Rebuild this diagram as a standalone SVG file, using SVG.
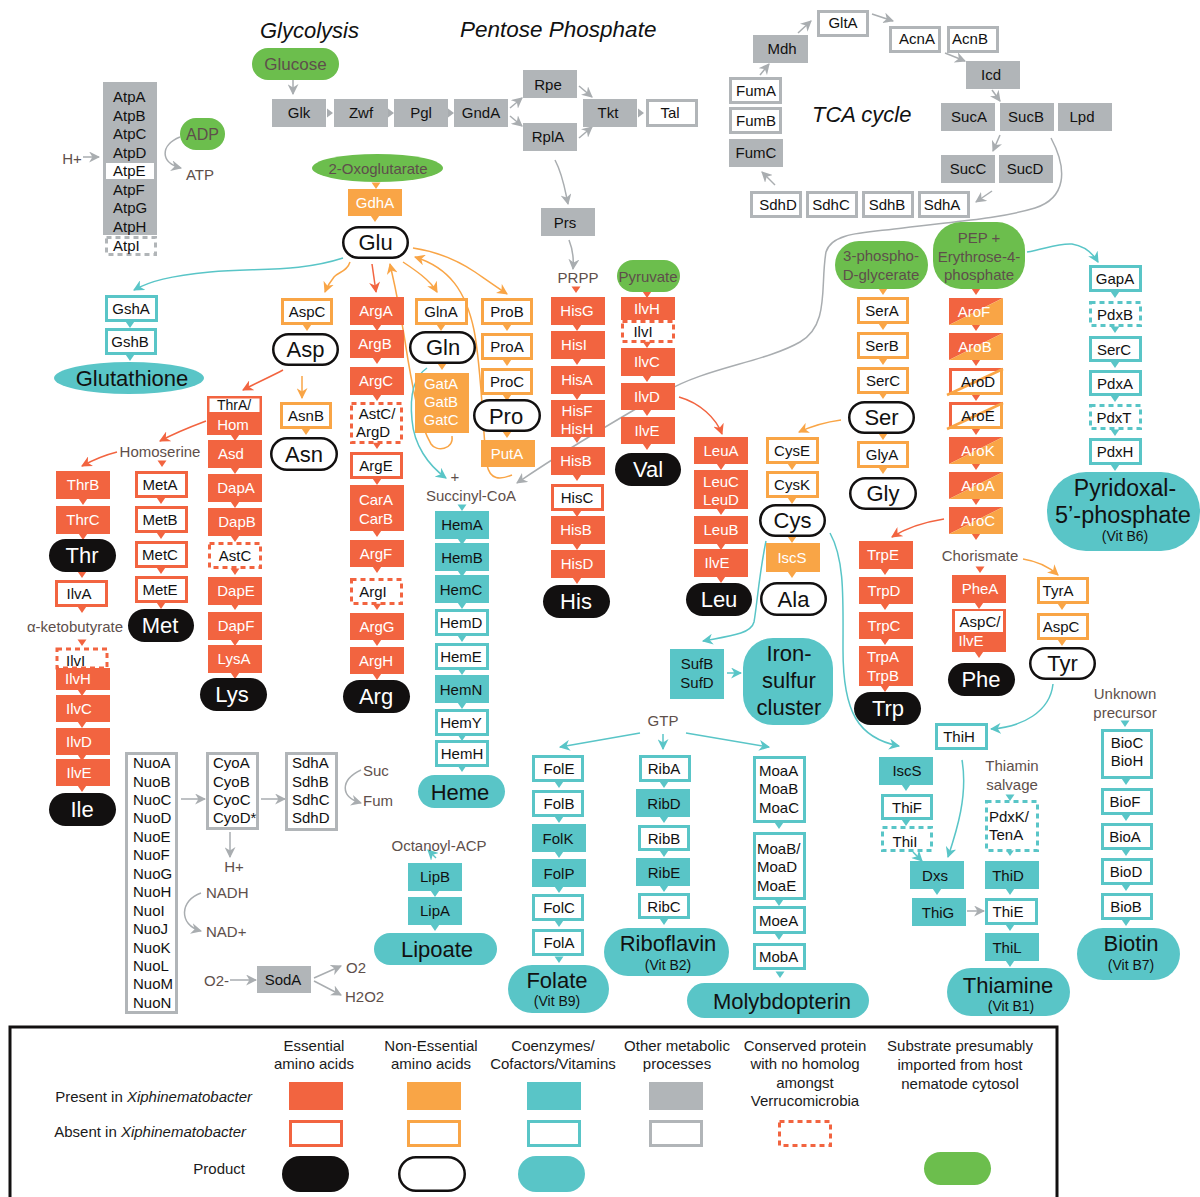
<svg xmlns="http://www.w3.org/2000/svg" xmlns:xlink="http://www.w3.org/1999/xlink" width="1200" height="1197" viewBox="0 0 1200 1197">
<style>
text{font-family:"Liberation Sans",Arial,Helvetica,sans-serif}
.b{font-size:15px;text-anchor:middle;fill:#111}
.bw{font-size:15px;text-anchor:middle;fill:#fff}
.bl{font-size:15px;fill:#111}
.m{font-size:15px;text-anchor:middle;fill:#5e4f4b}
.ml{font-size:15px;fill:#5e4f4b}
.p{font-size:22px;text-anchor:middle;fill:#111}
.pw{font-size:22px;text-anchor:middle;fill:#fff}
.v{font-size:14px;text-anchor:middle;fill:#111}
.ti{font-size:22px;font-style:italic;fill:#111}
.lgd{font-size:15px;text-anchor:middle;fill:#1a1a1a}
.rf{fill:#F26440}
.ro{fill:#fff;stroke:#F26440;stroke-width:3}
.rd{fill:#fff;stroke:#F26440;stroke-width:3;stroke-dasharray:5 4}
.of{fill:#F9A546}
.oo{fill:#fff;stroke:#F9A546;stroke-width:3}
.tf{fill:#59C5C7}
.to{fill:#fff;stroke:#59C5C7;stroke-width:3}
.td{fill:#fff;stroke:#59C5C7;stroke-width:3;stroke-dasharray:5 4}
.gf{fill:#B1B5B8}
.go{fill:#fff;stroke:#B1B5B8;stroke-width:3}
.gd{fill:#fff;stroke:#B1B5B8;stroke-width:3;stroke-dasharray:5 4}
.gn{fill:#6CBE4D}
.kf{fill:#121010}
.ko{fill:#fff;stroke:#121010;stroke-width:2.5}
.cr{fill:#F26440}.co{fill:#F9A546}.ct{fill:#59C5C7}.cg{fill:#A9ADB0}
.lg{fill:none;stroke:#A9ADB0;stroke-width:1.5;marker-end:url(#mg)}
.lr{fill:none;stroke:#F26440;stroke-width:1.5;marker-end:url(#mr)}
.lo{fill:none;stroke:#F9A546;stroke-width:1.5;marker-end:url(#mo)}
.lt{fill:none;stroke:#59C5C7;stroke-width:1.5;marker-end:url(#mt)}
.lon{fill:none;stroke:#F9A546;stroke-width:1.5}
</style>
<defs>
<marker id="mg" viewBox="0 0 10 10" refX="9" refY="5" markerWidth="11" markerHeight="11" markerUnits="userSpaceOnUse" orient="auto"><path d="M0,0 L10,5 L0,10 L3,5 Z" fill="#A9ADB0"/></marker>
<marker id="mr" viewBox="0 0 10 10" refX="9" refY="5" markerWidth="11" markerHeight="11" markerUnits="userSpaceOnUse" orient="auto"><path d="M0,0 L10,5 L0,10 L3,5 Z" fill="#F26440"/></marker>
<marker id="mo" viewBox="0 0 10 10" refX="9" refY="5" markerWidth="11" markerHeight="11" markerUnits="userSpaceOnUse" orient="auto"><path d="M0,0 L10,5 L0,10 L3,5 Z" fill="#F9A546"/></marker>
<marker id="mt" viewBox="0 0 10 10" refX="9" refY="5" markerWidth="11" markerHeight="11" markerUnits="userSpaceOnUse" orient="auto"><path d="M0,0 L10,5 L0,10 L3,5 Z" fill="#59C5C7"/></marker>
<path id="tri" d="M-4.5,-0.5 H4.5 L0,6 Z"/>
<path id="trr" d="M0,-4.5 L6,0 L0,4.5 Z"/>
</defs>
<rect width="1200" height="1197" fill="#fff"/>

<g id="titles">
<text class="ti" x="260" y="38">Glycolysis</text>
<text class="ti" x="460" y="37" style="font-size:22.5px">Pentose Phosphate</text>
<text class="ti" x="812" y="122">TCA cycle</text>
</g>

<g id="connectors">
<!-- glycolysis / pentose -->
<path class="lg" d="M293,80 L293,94"/>
<use href="#trr" x="327" y="113" class="cg"/>
<use href="#trr" x="388" y="113" class="cg"/>
<use href="#trr" x="448" y="113" class="cg"/>
<use href="#trr" x="638" y="113" class="cg"/>
<path class="lg" d="M510,108 L522,98"/>
<path class="lg" d="M510,116 L522,126"/>
<path class="lg" d="M579,86 L592,97"/>
<path class="lg" d="M579,138 L592,127"/>
<path class="lg" d="M555,160 C563,175 565,190 568,204"/>
<path class="lg" d="M569,240 C573,250 574,258 573,269"/>
<!-- TCA -->
<path class="lg" d="M760,75 L769,64"/>
<path class="lg" d="M798,33 L811,21"/>
<path class="lg" d="M872,14 L893,21"/>
<path class="lg" d="M945,53 L965,61"/>
<path class="lg" d="M992,90 L1000,101"/>
<path class="lg" d="M1000,135 L993,151"/>
<path class="lg" d="M992,191 L976,202"/>
<path class="lg" d="M775,185 L762,172"/>
<path class="lg" d="M1051,138 C1068,170 1066,198 1035,208 C995,220 945,222 903,228 C865,233 832,232 826,252 C820,285 830,325 800,342 C765,362 705,368 665,392 C625,415 565,450 517,483"/>
<!-- ATP synthase -->
<path class="lg" d="M83,157 L99,157"/>
<path class="lg" d="M180,137 C160,145 160,163 181,168"/>
<!-- Glu region -->
<path class="lt" d="M343,258 C300,272 260,268 210,272 C170,276 150,281 134,290"/>
<use href="#tri" x="130" y="322" class="ct"/>
<use href="#tri" x="130" y="355" class="ct"/>
<use href="#tri" x="376" y="183" class="co"/>
<use href="#tri" x="375" y="216" class="co"/>
<path class="lo" d="M350,262 C347,272 338,272 334,277 C330,282 327,287 325,292"/>
<path class="lr" d="M372,264 L376,292"/>
<path class="lo" d="M403,262 C415,270 430,280 437,292"/>
<path class="lo" d="M413,248 C440,252 460,262 475,272 C488,281 498,288 507,294"/>
<path class="lo" d="M512,475 C500,480 490,480 487,465 C483,440 482,370 474,330 C466,292 450,268 415,257"/>
<path class="lo" d="M452,436 C454,450 436,452 431,444 C420,425 414,395 408,360 C402,320 396,290 390,264"/>
<path class="lt" d="M427,368 C412,378 410,400 412,420 C414,445 428,465 446,478"/>
<use href="#tri" x="307" y="325" class="co"/>
<path class="lr" d="M283,370 C270,377 256,383 243,390"/>
<path class="lo" d="M302,376 L302,398"/>
<use href="#tri" x="306" y="429" class="co"/>
<use href="#tri" x="441" y="325" class="co"/>
<use href="#tri" x="442" y="364" class="co"/>
<use href="#tri" x="507" y="325" class="co"/>
<use href="#tri" x="507" y="360" class="co"/>
<use href="#tri" x="507" y="395" class="co"/>
<use href="#tri" x="507" y="432" class="co"/>
<!-- Asp family -->
<use href="#tri" x="235" y="435" class="cr"/>
<use href="#tri" x="235" y="468" class="cr"/>
<use href="#tri" x="235" y="502" class="cr"/>
<use href="#tri" x="235" y="536" class="cr"/>
<use href="#tri" x="235" y="569" class="cr"/>
<use href="#tri" x="235" y="604" class="cr"/>
<use href="#tri" x="235" y="640" class="cr"/>
<use href="#tri" x="235" y="673" class="cr"/>
<path class="lr" d="M206,421 C190,427 175,433 160,441"/>
<path class="lr" d="M117,452 C105,455 93,460 82,466"/>
<use href="#tri" x="162" y="461" class="cr"/>
<use href="#tri" x="83" y="499" class="cr"/>
<use href="#tri" x="83" y="534" class="cr"/>
<use href="#tri" x="82" y="572" class="cr"/>
<use href="#tri" x="82" y="607" class="cr"/>
<use href="#tri" x="82" y="640" class="cr"/>
<use href="#tri" x="82" y="690" class="cr"/>
<use href="#tri" x="82" y="722" class="cr"/>
<use href="#tri" x="82" y="755" class="cr"/>
<use href="#tri" x="82" y="786" class="cr"/>
<use href="#tri" x="161" y="498" class="cr"/>
<use href="#tri" x="161" y="533" class="cr"/>
<use href="#tri" x="161" y="568" class="cr"/>
<use href="#tri" x="161" y="603" class="cr"/>
<!-- Arg -->
<use href="#tri" x="377" y="325" class="cr"/>
<use href="#tri" x="377" y="358" class="cr"/>
<use href="#tri" x="377" y="395" class="cr"/>
<use href="#tri" x="377" y="443" class="cr"/>
<use href="#tri" x="377" y="479" class="cr"/>
<use href="#tri" x="377" y="531" class="cr"/>
<use href="#tri" x="377" y="567" class="cr"/>
<use href="#tri" x="377" y="604" class="cr"/>
<use href="#tri" x="377" y="640" class="cr"/>
<use href="#tri" x="377" y="674" class="cr"/>
<!-- His -->
<use href="#tri" x="576" y="287" class="cr"/>
<use href="#tri" x="577" y="325" class="cr"/>
<use href="#tri" x="577" y="359" class="cr"/>
<use href="#tri" x="577" y="394" class="cr"/>
<use href="#tri" x="577" y="437" class="cr"/>
<use href="#tri" x="577" y="475" class="cr"/>
<use href="#tri" x="577" y="511" class="cr"/>
<use href="#tri" x="577" y="544" class="cr"/>
<use href="#tri" x="577" y="578" class="cr"/>
<!-- Ilv / Leu -->
<use href="#tri" x="647" y="292" class="cr"/>
<use href="#tri" x="647" y="342" class="cr"/>
<use href="#tri" x="647" y="376" class="cr"/>
<use href="#tri" x="647" y="410" class="cr"/>
<use href="#tri" x="647" y="444" class="cr"/>
<path class="lr" d="M679,397 C700,403 716,418 722,434"/>
<use href="#tri" x="721" y="464" class="cr"/>
<use href="#tri" x="721" y="509" class="cr"/>
<use href="#tri" x="721" y="544" class="cr"/>
<use href="#tri" x="721" y="577" class="cr"/>
<!-- Cys / Ser -->
<path class="lo" d="M841,420 C826,422 812,426 799,432"/>
<use href="#tri" x="792" y="464" class="co"/>
<use href="#tri" x="792" y="498" class="co"/>
<use href="#tri" x="792" y="537" class="co"/>
<use href="#tri" x="792" y="572" class="co"/>
<path class="lt" d="M766,541 C759,575 757,605 754,622 C751,634 730,636 703,641"/>
<path class="lt" d="M830,533 C845,560 843,600 843,650 C843,712 858,738 899,746"/>
<path class="lt" d="M727,673 L741,673"/>
<use href="#tri" x="883" y="289" class="co"/>
<use href="#tri" x="883" y="324" class="co"/>
<use href="#tri" x="883" y="359" class="co"/>
<use href="#tri" x="883" y="393" class="co"/>
<use href="#tri" x="883" y="434" class="co"/>
<use href="#tri" x="883" y="468" class="co"/>
<!-- Aromatic -->
<use href="#tri" x="976" y="289" class="cr"/>
<use href="#tri" x="976" y="325" class="cr"/>
<use href="#tri" x="976" y="360" class="cr"/>
<use href="#tri" x="976" y="395" class="cr"/>
<use href="#tri" x="976" y="429" class="cr"/>
<use href="#tri" x="976" y="464" class="cr"/>
<use href="#tri" x="976" y="499" class="cr"/>
<use href="#tri" x="976" y="534" class="cr"/>
<use href="#tri" x="980" y="567" class="cr"/>
<path class="lr" d="M944,519 C925,522 906,528 892,537"/>
<path class="lo" d="M1023,559 C1036,561 1048,566 1058,575"/>
<use href="#tri" x="885" y="569" class="cr"/>
<use href="#tri" x="885" y="604" class="cr"/>
<use href="#tri" x="885" y="639" class="cr"/>
<use href="#tri" x="885" y="686" class="cr"/>
<use href="#tri" x="979" y="603" class="cr"/>
<use href="#tri" x="979" y="652" class="cr"/>
<use href="#tri" x="1062" y="604" class="co"/>
<use href="#tri" x="1062" y="640" class="co"/>
<path class="lt" d="M1053,684 C1050,712 1022,727 991,729"/>
<!-- Pyridoxal -->
<path class="lt" d="M1027,252 C1045,249 1058,243 1072,244 C1084,246 1092,252 1098,262"/>
<use href="#tri" x="1115" y="292" class="ct"/>
<use href="#tri" x="1115" y="327" class="ct"/>
<use href="#tri" x="1115" y="362" class="ct"/>
<use href="#tri" x="1115" y="396" class="ct"/>
<use href="#tri" x="1115" y="430" class="ct"/>
<use href="#tri" x="1115" y="465" class="ct"/>
<!-- Thiamine -->
<use href="#tri" x="906" y="785" class="ct"/>
<use href="#tri" x="906" y="820" class="ct"/>
<path class="lt" d="M913,852 L922,861"/>
<path class="lt" d="M962,760 C968,795 957,830 948,857"/>
<use href="#tri" x="937" y="889" class="ct"/>
<path class="lg" d="M967,911 L984,911"/>
<use href="#tri" x="1010" y="795" class="ct"/>
<use href="#tri" x="1010" y="850" class="ct"/>
<use href="#tri" x="1010" y="889" class="ct"/>
<use href="#tri" x="1010" y="925" class="ct"/>
<use href="#tri" x="1010" y="961" class="ct"/>
<!-- Biotin -->
<use href="#tri" x="1125" y="721" class="ct"/>
<use href="#tri" x="1126" y="779" class="ct"/>
<use href="#tri" x="1126" y="815" class="ct"/>
<use href="#tri" x="1126" y="850" class="ct"/>
<use href="#tri" x="1126" y="885" class="ct"/>
<use href="#tri" x="1126" y="920" class="ct"/>
<!-- Heme -->
<use href="#tri" x="462" y="505" class="ct"/>
<use href="#tri" x="462" y="539" class="ct"/>
<use href="#tri" x="462" y="571" class="ct"/>
<use href="#tri" x="462" y="603" class="ct"/>
<use href="#tri" x="462" y="636" class="ct"/>
<use href="#tri" x="462" y="669" class="ct"/>
<use href="#tri" x="462" y="703" class="ct"/>
<use href="#tri" x="462" y="735" class="ct"/>
<use href="#tri" x="462" y="766" class="ct"/>
<!-- GTP -->
<path class="lt" d="M640,733 L560,747"/>
<path class="lt" d="M663,734 L663,749"/>
<path class="lt" d="M686,733 L769,747"/>
<use href="#tri" x="559" y="782" class="ct"/>
<use href="#tri" x="559" y="817" class="ct"/>
<use href="#tri" x="559" y="852" class="ct"/>
<use href="#tri" x="559" y="887" class="ct"/>
<use href="#tri" x="559" y="921" class="ct"/>
<use href="#tri" x="559" y="957" class="ct"/>
<use href="#tri" x="664" y="782" class="ct"/>
<use href="#tri" x="664" y="817" class="ct"/>
<use href="#tri" x="664" y="851" class="ct"/>
<use href="#tri" x="664" y="886" class="ct"/>
<use href="#tri" x="664" y="919" class="ct"/>
<use href="#tri" x="779" y="823" class="ct"/>
<use href="#tri" x="779" y="900" class="ct"/>
<use href="#tri" x="779" y="934" class="ct"/>
<use href="#tri" x="780" y="972" class="ct"/>
<!-- Lipoate -->
<path class="lt" d="M436,858 L428,850"/>
<use href="#tri" x="435" y="891" class="ct"/>
<use href="#tri" x="435" y="925" class="ct"/>
<!-- respiration -->
<path class="lg" d="M181,799 L205,799"/>
<path class="lg" d="M261,799 L285,799"/>
<path class="lg" d="M230,832 L230,857"/>
<path class="lg" d="M361,770 C340,780 340,797 361,803"/>
<path class="lg" d="M201,893 C180,900 178,925 201,931"/>
<path class="lg" d="M230,980 L256,980"/>
<path class="lg" d="M314,978 L341,966"/>
<path class="lg" d="M314,981 L341,995"/>
</g>

<!-- Glycolysis / PPP nodes -->
<g id="n-glucose"><rect class="gn" x="252" y="48" width="87" height="32" rx="16"/><text class="m" x="295.5" y="70" style="font-size:17px">Glucose</text></g>
<g id="n-glk"><rect class="gf" x="272" y="99" width="54" height="28"/><text class="b" x="299" y="118">Glk</text></g>
<g id="n-zwf"><rect class="gf" x="334" y="99" width="54" height="28"/><text class="b" x="361" y="118">Zwf</text></g>
<g id="n-pgl"><rect class="gf" x="394" y="99" width="54" height="28"/><text class="b" x="421" y="118">Pgl</text></g>
<g id="n-gnda"><rect class="gf" x="454" y="99" width="54" height="28"/><text class="b" x="481" y="118">GndA</text></g>
<g id="n-rpe"><rect class="gf" x="523" y="70" width="54" height="28"/><text class="b" x="548" y="90">Rpe</text></g>
<g id="n-rpla"><rect class="gf" x="523" y="123" width="54" height="28"/><text class="b" x="548" y="142">RplA</text></g>
<g id="n-tkt"><rect class="gf" x="583" y="99" width="54" height="28"/><text class="b" x="608" y="118">Tkt</text></g>
<g id="n-tal"><rect class="go" x="647.5" y="100.5" width="49" height="25"/><text class="b" x="670" y="118">Tal</text></g>
<g id="n-prs"><rect class="gf" x="541" y="208" width="54" height="28"/><text class="b" x="565" y="228">Prs</text></g>
<g id="n-prpp"><text class="m" x="578" y="283">PRPP</text></g>

<!-- TCA -->
<g id="n-mdh"><rect class="gf" x="753" y="35" width="55" height="28"/><text class="b" x="782" y="54">Mdh</text></g>
<g id="n-glta"><rect class="go" x="818.5" y="11.5" width="49" height="24"/><text class="b" x="843" y="28">GltA</text></g>
<g id="n-acna"><rect class="go" x="890.5" y="27.5" width="49" height="24"/><text class="b" x="917" y="44">AcnA</text></g>
<g id="n-acnb"><rect class="go" x="948.5" y="27.5" width="49" height="24"/><text class="b" x="970" y="44">AcnB</text></g>
<g id="n-icd"><rect class="gf" x="966" y="61" width="54" height="28"/><text class="b" x="991" y="80">Icd</text></g>
<g id="n-suca"><rect class="gf" x="941" y="103" width="54" height="28"/><text class="b" x="969" y="122">SucA</text></g>
<g id="n-sucb"><rect class="gf" x="1000" y="103" width="54" height="28"/><text class="b" x="1026" y="122">SucB</text></g>
<g id="n-lpd"><rect class="gf" x="1058" y="103" width="54" height="28"/><text class="b" x="1082" y="122">Lpd</text></g>
<g id="n-succ"><rect class="gf" x="941" y="155" width="54" height="28"/><text class="b" x="968" y="174">SucC</text></g>
<g id="n-sucd"><rect class="gf" x="999" y="155" width="54" height="28"/><text class="b" x="1025" y="174">SucD</text></g>
<g id="n-sdha"><rect class="go" x="919.5" y="192.5" width="49" height="24"/><text class="b" x="942" y="210">SdhA</text></g>
<g id="n-sdhb"><rect class="go" x="863.5" y="192.5" width="49" height="24"/><text class="b" x="887" y="210">SdhB</text></g>
<g id="n-sdhc"><rect class="go" x="807.5" y="192.5" width="49" height="24"/><text class="b" x="831" y="210">SdhC</text></g>
<g id="n-sdhd"><rect class="go" x="751.5" y="192.5" width="49" height="24"/><text class="b" x="778" y="210">SdhD</text></g>
<g id="n-fumc"><rect class="gf" x="729" y="139" width="54" height="28"/><text class="b" x="756" y="158">FumC</text></g>
<g id="n-fumb"><rect class="go" x="730.5" y="108.5" width="50" height="24"/><text class="b" x="756" y="126">FumB</text></g>
<g id="n-fuma"><rect class="go" x="730.5" y="78.5" width="50" height="24"/><text class="b" x="756" y="96">FumA</text></g>

<!-- ATP synthase -->
<g id="n-atp">
<rect class="gf" x="103" y="82" width="54" height="153"/>
<rect x="106" y="163" width="48" height="16" fill="#fff"/>
<text class="bl" x="113" y="102">AtpA</text>
<text class="bl" x="113" y="120.5">AtpB</text>
<text class="bl" x="113" y="139">AtpC</text>
<text class="bl" x="113" y="157.5">AtpD</text>
<text class="bl" x="113" y="176">AtpE</text>
<text class="bl" x="113" y="194.5">AtpF</text>
<text class="bl" x="113" y="213">AtpG</text>
<text class="bl" x="113" y="231.5">AtpH</text>
</g>
<g id="n-atpi"><rect class="gd" x="106.5" y="237.5" width="49" height="17"/><text class="bl" x="113" y="251">AtpI</text></g>
<g id="n-adp"><rect class="gn" x="180" y="118" width="45" height="32" rx="16"/><text class="m" x="202.5" y="140" style="font-size:16px">ADP</text></g>
<g id="n-atpt"><text class="m" x="200" y="180">ATP</text></g>
<g id="n-hplus1"><text class="m" x="72" y="164">H+</text></g>

<!-- Glutathione -->
<g id="n-gsha"><rect class="to" x="106.5" y="296.5" width="50" height="24"/><text class="b" x="131" y="314">GshA</text></g>
<g id="n-gshb"><rect class="to" x="106.5" y="329.5" width="49" height="24"/><text class="b" x="130" y="347">GshB</text></g>
<g id="n-glutathione"><ellipse class="tf" cx="129" cy="378" rx="75" ry="16"/><text class="p" x="132" y="386">Glutathione</text></g>

<!-- Glu -->
<g id="n-oxo"><ellipse class="gn" cx="377.5" cy="168" rx="65.5" ry="14"/><text class="m" x="378" y="174">2-Oxoglutarate</text></g>
<g id="n-gdha"><rect class="of" x="348" y="189" width="54" height="27"/><text class="bw" x="375" y="208">GdhA</text></g>
<g id="n-glu"><rect class="ko" x="343.25" y="227.25" width="64.5" height="30.5" rx="15.25"/><text class="p" x="375.5" y="250">Glu</text></g>
<g id="n-aspc"><rect class="oo" x="282.5" y="299.5" width="49" height="24"/><text class="b" x="307" y="317">AspC</text></g>
<g id="n-asp"><rect class="ko" x="273.25" y="334.25" width="64.5" height="30.5" rx="15.25"/><text class="p" x="305.5" y="357">Asp</text></g>
<g id="n-asnb"><rect class="oo" x="281.5" y="403.5" width="49" height="24"/><text class="b" x="306" y="421">AsnB</text></g>
<g id="n-asn"><rect class="ko" x="271.25" y="438.25" width="65.5" height="31.5" rx="15.75"/><text class="p" x="304" y="462">Asn</text></g>

<!-- Asp family: Thr/Hom/Lys -->
<g id="n-thra"><rect class="rf" x="207" y="396" width="55" height="39"/><rect x="209.5" y="398.5" width="50" height="13.5" fill="#fff"/><text class="b" x="234" y="410" style="font-size:14px">ThrA/</text><text class="bw" x="233" y="430">Hom</text></g>
<g id="n-asd"><rect class="rf" x="208" y="440" width="54" height="28"/><text class="bw" x="231" y="459">Asd</text></g>
<g id="n-dapa"><rect class="rf" x="208" y="474" width="54" height="28"/><text class="bw" x="236" y="493">DapA</text></g>
<g id="n-dapb"><rect class="rf" x="208" y="508" width="54" height="28"/><text class="bw" x="237" y="527">DapB</text></g>
<g id="n-astc1"><rect class="rd" x="209.5" y="543.5" width="51" height="24"/><text class="b" x="235" y="561">AstC</text></g>
<g id="n-dape"><rect class="rf" x="208" y="577" width="54" height="28"/><text class="bw" x="236" y="596">DapE</text></g>
<g id="n-dapf"><rect class="rf" x="208" y="612" width="54" height="28"/><text class="bw" x="236" y="631">DapF</text></g>
<g id="n-lysa"><rect class="rf" x="208" y="645" width="54" height="28"/><text class="bw" x="234" y="664">LysA</text></g>
<g id="n-lys"><rect class="kf" x="200" y="678" width="67" height="33" rx="16.5"/><text class="pw" x="232" y="702">Lys</text></g>
<g id="n-homoserine"><text class="m" x="160" y="457">Homoserine</text></g>
<g id="n-thrb"><rect class="rf" x="56" y="471" width="54" height="28"/><text class="bw" x="83" y="490">ThrB</text></g>
<g id="n-thrc"><rect class="rf" x="56" y="506" width="54" height="28"/><text class="bw" x="83" y="525">ThrC</text></g>
<g id="n-thr"><rect class="kf" x="49" y="539" width="67" height="33" rx="16.5"/><text class="pw" x="82" y="563">Thr</text></g>
<g id="n-ilva"><rect class="ro" x="56.5" y="581.5" width="50" height="24"/><text class="b" x="79" y="599">IlvA</text></g>
<g id="n-akb"><text class="m" x="75" y="632">α-ketobutyrate</text></g>
<g id="n-ilvi1"><rect class="rd" x="57" y="649" width="50" height="19"/><text class="bl" x="66" y="666">IlvI</text></g>
<g id="n-ilvh1"><rect class="rf" x="56" y="668" width="54" height="22"/><text class="bw" x="78" y="684">IlvH</text></g>
<g id="n-ilvc1"><rect class="rf" x="56" y="695" width="54" height="27"/><text class="bw" x="79" y="714">IlvC</text></g>
<g id="n-ilvd1"><rect class="rf" x="56" y="728" width="54" height="27"/><text class="bw" x="79" y="747">IlvD</text></g>
<g id="n-ilve1"><rect class="rf" x="56" y="759" width="54" height="27"/><text class="bw" x="79" y="778">IlvE</text></g>
<g id="n-ile"><rect class="kf" x="49" y="793" width="67" height="33" rx="16.5"/><text class="pw" x="82" y="817">Ile</text></g>
<g id="n-meta"><rect class="ro" x="136.5" y="472.5" width="50" height="24"/><text class="b" x="160" y="490">MetA</text></g>
<g id="n-metb"><rect class="ro" x="136.5" y="507.5" width="50" height="24"/><text class="b" x="160" y="525">MetB</text></g>
<g id="n-metc"><rect class="ro" x="136.5" y="542.5" width="50" height="24"/><text class="b" x="160" y="560">MetC</text></g>
<g id="n-mete"><rect class="ro" x="136.5" y="577.5" width="50" height="24"/><text class="b" x="160" y="595">MetE</text></g>
<g id="n-met"><rect class="kf" x="128" y="609" width="66" height="33" rx="16.5"/><text class="pw" x="160" y="633">Met</text></g>

<!-- Arg -->
<g id="n-arga"><rect class="rf" x="350" y="297" width="54" height="28"/><text class="bw" x="376" y="316">ArgA</text></g>
<g id="n-argb"><rect class="rf" x="350" y="330" width="54" height="28"/><text class="bw" x="375" y="349">ArgB</text></g>
<g id="n-argc"><rect class="rf" x="350" y="367" width="54" height="28"/><text class="bw" x="376" y="386">ArgC</text></g>
<g id="n-astc2"><rect class="rd" x="351.5" y="403.5" width="50" height="39"/><text class="b" x="377" y="419">AstC/</text><text class="b" x="373" y="437">ArgD</text></g>
<g id="n-arge"><rect class="ro" x="351.5" y="453.5" width="50" height="24"/><text class="b" x="376" y="471">ArgE</text></g>
<g id="n-carab"><rect class="rf" x="350" y="485" width="54" height="46"/><text class="bw" x="376" y="505">CarA</text><text class="bw" x="376" y="524">CarB</text></g>
<g id="n-argf"><rect class="rf" x="350" y="540" width="54" height="27"/><text class="bw" x="376" y="559">ArgF</text></g>
<g id="n-argi"><rect class="rd" x="351.5" y="579.5" width="50" height="24"/><text class="b" x="373" y="597">ArgI</text></g>
<g id="n-argg"><rect class="rf" x="350" y="613" width="54" height="27"/><text class="bw" x="377" y="632">ArgG</text></g>
<g id="n-argh"><rect class="rf" x="350" y="647" width="54" height="27"/><text class="bw" x="376" y="666">ArgH</text></g>
<g id="n-arg"><rect class="kf" x="343" y="680" width="67" height="33" rx="16.5"/><text class="pw" x="376" y="704">Arg</text></g>

<!-- Gln / Pro -->
<g id="n-glna"><rect class="oo" x="416.5" y="299.5" width="50" height="24"/><text class="b" x="441" y="317">GlnA</text></g>
<g id="n-gln"><rect class="ko" x="410.25" y="332.25" width="64.5" height="30.5" rx="15.25"/><text class="p" x="443" y="355">Gln</text></g>
<g id="n-gatabc"><rect class="of" x="415" y="373" width="54" height="60"/><text class="bw" x="441" y="389">GatA</text><text class="bw" x="441" y="407">GatB</text><text class="bw" x="441" y="425">GatC</text></g>
<g id="n-prob"><rect class="oo" x="482.5" y="299.5" width="49" height="24"/><text class="b" x="507" y="317">ProB</text></g>
<g id="n-proa"><rect class="oo" x="482.5" y="334.5" width="49" height="24"/><text class="b" x="507" y="352">ProA</text></g>
<g id="n-proc"><rect class="oo" x="482.5" y="369.5" width="49" height="24"/><text class="b" x="507" y="387">ProC</text></g>
<g id="n-pro"><rect class="ko" x="474.25" y="400.25" width="65.5" height="30.5" rx="15.25"/><text class="p" x="506" y="424">Pro</text></g>
<g id="n-puta"><rect class="of" x="481" y="440" width="54" height="27"/><text class="bw" x="507" y="459">PutA</text></g>

<!-- His -->
<g id="n-hisg"><rect class="rf" x="551" y="297" width="54" height="28"/><text class="bw" x="577" y="316">HisG</text></g>
<g id="n-hisi"><rect class="rf" x="551" y="331" width="54" height="28"/><text class="bw" x="574" y="350">HisI</text></g>
<g id="n-hisa"><rect class="rf" x="551" y="366" width="54" height="28"/><text class="bw" x="577" y="385">HisA</text></g>
<g id="n-hisfh"><rect class="rf" x="551" y="400" width="54" height="37"/><text class="bw" x="577" y="416">HisF</text><text class="bw" x="577" y="434">HisH</text></g>
<g id="n-hisb1"><rect class="rf" x="551" y="447" width="54" height="28"/><text class="bw" x="576" y="466">HisB</text></g>
<g id="n-hisc"><rect class="ro" x="552.5" y="485.5" width="50" height="24"/><text class="b" x="577" y="503">HisC</text></g>
<g id="n-hisb2"><rect class="rf" x="551" y="516" width="54" height="28"/><text class="bw" x="576" y="535">HisB</text></g>
<g id="n-hisd"><rect class="rf" x="551" y="550" width="54" height="28"/><text class="bw" x="577" y="569">HisD</text></g>
<g id="n-his"><rect class="kf" x="543" y="585" width="67" height="33" rx="16.5"/><text class="pw" x="576" y="609">His</text></g>

<!-- Val / Leu -->
<g id="n-pyruvate"><rect class="gn" x="617" y="260" width="63" height="32" rx="16"/><text class="m" x="648" y="282">Pyruvate</text></g>
<g id="n-ilvh2"><rect class="rf" x="621" y="297" width="54" height="23"/><text class="bw" x="647" y="314">IlvH</text></g>
<g id="n-ilvi2"><rect class="rd" x="622.5" y="321.5" width="51" height="20"/><text class="b" x="643" y="337">IlvI</text></g>
<g id="n-ilvc2"><rect class="rf" x="621" y="348" width="54" height="28"/><text class="bw" x="647" y="367">IlvC</text></g>
<g id="n-ilvd2"><rect class="rf" x="621" y="383" width="54" height="27"/><text class="bw" x="647" y="402">IlvD</text></g>
<g id="n-ilve2"><rect class="rf" x="621" y="417" width="54" height="27"/><text class="bw" x="647" y="436">IlvE</text></g>
<g id="n-val"><rect class="kf" x="615" y="453" width="66" height="33" rx="16.5"/><text class="pw" x="648" y="477">Val</text></g>
<g id="n-leua"><rect class="rf" x="694" y="437" width="54" height="27"/><text class="bw" x="721" y="456">LeuA</text></g>
<g id="n-leucd"><rect class="rf" x="694" y="470" width="54" height="39"/><text class="bw" x="721" y="487">LeuC</text><text class="bw" x="721" y="505">LeuD</text></g>
<g id="n-leub"><rect class="rf" x="694" y="516" width="54" height="28"/><text class="bw" x="721" y="535">LeuB</text></g>
<g id="n-ilve3"><rect class="rf" x="694" y="549" width="54" height="28"/><text class="bw" x="717" y="568">IlvE</text></g>
<g id="n-leu"><rect class="kf" x="686" y="583" width="66" height="33" rx="16.5"/><text class="pw" x="719" y="607">Leu</text></g>

<!-- Cys / Ala / Fe-S -->
<g id="n-cyse"><rect class="oo" x="767.5" y="438.5" width="50" height="24"/><text class="b" x="792" y="456">CysE</text></g>
<g id="n-cysk"><rect class="oo" x="767.5" y="472.5" width="50" height="24"/><text class="b" x="792" y="490">CysK</text></g>
<g id="n-cys"><rect class="ko" x="760.25" y="505.25" width="64.5" height="30.5" rx="15.25"/><text class="p" x="792.5" y="528">Cys</text></g>
<g id="n-iscs1"><rect class="of" x="766" y="543" width="54" height="29"/><text class="bw" x="792" y="563">IscS</text></g>
<g id="n-ala"><rect class="ko" x="761.25" y="583.25" width="64.5" height="31.5" rx="15.75"/><text class="p" x="793.5" y="607">Ala</text></g>
<g id="n-sufbd"><rect class="tf" x="670" y="649" width="54" height="50"/><text class="b" x="697" y="669">SufB</text><text class="b" x="697" y="688">SufD</text></g>
<g id="n-fes"><rect class="tf" x="743" y="638" width="90" height="87" rx="30"/><text class="p" x="789" y="661">Iron-</text><text class="p" x="789" y="688">sulfur</text><text class="p" x="789" y="715">cluster</text></g>

<!-- Ser / Gly -->
<g id="n-3pg"><rect class="gn" x="835" y="241" width="93" height="48" rx="24"/><text class="m" x="881" y="261">3-phospho-</text><text class="m" x="881" y="280">D-glycerate</text></g>
<g id="n-sera"><rect class="oo" x="858.5" y="298.5" width="49" height="24"/><text class="b" x="882" y="316">SerA</text></g>
<g id="n-serb"><rect class="oo" x="858.5" y="333.5" width="49" height="24"/><text class="b" x="882" y="351">SerB</text></g>
<g id="n-serc1"><rect class="oo" x="858.5" y="368.5" width="49" height="24"/><text class="b" x="883" y="386">SerC</text></g>
<g id="n-ser"><rect class="ko" x="849.25" y="402.25" width="64.5" height="30.5" rx="15.25"/><text class="p" x="881.5" y="425">Ser</text></g>
<g id="n-glya"><rect class="oo" x="858.5" y="442.5" width="49" height="24"/><text class="b" x="882" y="460">GlyA</text></g>
<g id="n-gly"><rect class="ko" x="850.25" y="478.25" width="65.5" height="30.5" rx="15.25"/><text class="p" x="883" y="501">Gly</text></g>

<!-- Aromatic -->
<g id="n-pep"><rect class="gn" x="933" y="222" width="92" height="67" rx="28"/><text class="m" x="979" y="243">PEP +</text><text class="m" x="979" y="262">Erythrose-4-</text><text class="m" x="979" y="280">phosphate</text></g>
<g id="n-arof"><path d="M949,298 H1003 L949,325 Z" fill="#F26440"/><path d="M1003,298 V325 H949 Z" fill="#F9A546"/><text class="bw" x="974" y="317">AroF</text></g>
<g id="n-arob"><path d="M949,333 H1003 L949,360 Z" fill="#F26440"/><path d="M1003,333 V360 H949 Z" fill="#F9A546"/><text class="bw" x="975" y="352">AroB</text></g>
<g id="n-arod"><rect x="950.5" y="369.5" width="51" height="24" fill="#fff" stroke="#F26440" stroke-width="3"/><path d="M1001.5,369.5 V393.5 H950.5" fill="none" stroke="#F9A546" stroke-width="3"/><path d="M947,395 L1003,369" stroke="#F9A546" stroke-width="2.5"/><text class="b" x="978" y="387">AroD</text></g>
<g id="n-aroe"><rect x="950.5" y="403.5" width="51" height="24" fill="#fff" stroke="#F26440" stroke-width="3"/><path d="M1001.5,403.5 V427.5 H950.5" fill="none" stroke="#F9A546" stroke-width="3"/><path d="M947,429 L1003,403" stroke="#F9A546" stroke-width="2.5"/><text class="b" x="978" y="421">AroE</text></g>
<g id="n-arok"><path d="M949,437 H1003 L949,464 Z" fill="#F26440"/><path d="M1003,437 V464 H949 Z" fill="#F9A546"/><text class="bw" x="978" y="456">AroK</text></g>
<g id="n-aroa"><path d="M949,472 H1003 L949,499 Z" fill="#F26440"/><path d="M1003,472 V499 H949 Z" fill="#F9A546"/><text class="bw" x="978" y="491">AroA</text></g>
<g id="n-aroc"><path d="M949,507 H1003 L949,534 Z" fill="#F26440"/><path d="M1003,507 V534 H949 Z" fill="#F9A546"/><text class="bw" x="978" y="526">AroC</text></g>
<g id="n-chorismate"><text class="m" x="980" y="561">Chorismate</text></g>
<g id="n-trpe"><rect class="rf" x="859" y="541" width="54" height="28"/><text class="bw" x="883" y="560">TrpE</text></g>
<g id="n-trpd"><rect class="rf" x="859" y="577" width="54" height="27"/><text class="bw" x="884" y="596">TrpD</text></g>
<g id="n-trpc"><rect class="rf" x="859" y="612" width="54" height="27"/><text class="bw" x="884" y="631">TrpC</text></g>
<g id="n-trpab"><rect class="rf" x="859" y="646" width="54" height="40"/><text class="bw" x="883" y="662">TrpA</text><text class="bw" x="883" y="681">TrpB</text></g>
<g id="n-trp"><rect class="kf" x="854" y="692" width="67" height="33" rx="16.5"/><text class="pw" x="888" y="716">Trp</text></g>
<g id="n-phea"><rect class="rf" x="952" y="575" width="54" height="28"/><text class="bw" x="980" y="594">PheA</text></g>
<g id="n-aspcilve"><rect class="rf" x="952" y="609" width="54" height="43"/><rect x="955" y="611" width="48" height="21" fill="#fff"/><text class="b" x="980" y="627">AspC/</text><text class="bw" x="971" y="646">IlvE</text></g>
<g id="n-phe"><rect class="kf" x="948" y="663" width="67" height="33" rx="16.5"/><text class="pw" x="981" y="687">Phe</text></g>
<g id="n-tyra"><rect class="oo" x="1038.5" y="578.5" width="49" height="24"/><text class="b" x="1058" y="596">TyrA</text></g>
<g id="n-aspc2"><rect class="oo" x="1038.5" y="614.5" width="49" height="24"/><text class="b" x="1061" y="632">AspC</text></g>
<g id="n-tyr"><rect class="ko" x="1030.25" y="648.25" width="64.5" height="30.5" rx="15.25"/><text class="p" x="1062.5" y="671">Tyr</text></g>

<!-- Pyridoxal -->
<g id="n-gapa"><rect class="to" x="1090.5" y="266.5" width="50" height="24"/><text class="b" x="1115" y="284">GapA</text></g>
<g id="n-pdxb"><rect class="td" x="1090.5" y="302.5" width="50" height="23"/><text class="b" x="1115" y="320">PdxB</text></g>
<g id="n-serc2"><rect class="to" x="1090.5" y="337.5" width="50" height="23"/><text class="b" x="1114" y="355">SerC</text></g>
<g id="n-pdxa"><rect class="to" x="1090.5" y="371.5" width="50" height="23"/><text class="b" x="1115" y="389">PdxA</text></g>
<g id="n-pdxt"><rect class="td" x="1090.5" y="405.5" width="50" height="23"/><text class="b" x="1114" y="423">PdxT</text></g>
<g id="n-pdxh"><rect class="to" x="1090.5" y="439.5" width="50" height="24"/><text class="b" x="1115" y="457">PdxH</text></g>
<g id="n-plp"><rect class="tf" x="1047" y="472" width="153" height="79" rx="39"/><text class="p" x="1125" y="496" style="font-size:23px">Pyridoxal-</text><text class="p" x="1123" y="523" style="font-size:23.5px">5’-phosphate</text><text class="v" x="1125" y="541">(Vit B6)</text></g>

<!-- Thiamine -->
<g id="n-thih"><rect class="to" x="936.5" y="724.5" width="50" height="24"/><text class="b" x="959" y="742">ThiH</text></g>
<g id="n-iscs2"><rect class="tf" x="879" y="757" width="54" height="28"/><text class="b" x="907" y="776">IscS</text></g>
<g id="n-thif"><rect class="to" x="882.5" y="795.5" width="49" height="23"/><text class="b" x="907" y="813">ThiF</text></g>
<g id="n-thii"><rect class="td" x="882.5" y="827.5" width="49" height="23"/><text class="b" x="905" y="847">ThiI</text></g>
<g id="n-dxs"><rect class="tf" x="910" y="861" width="54" height="28"/><text class="b" x="935" y="881">Dxs</text></g>
<g id="n-thig"><rect class="tf" x="912" y="898" width="54" height="28"/><text class="b" x="938" y="918">ThiG</text></g>
<g id="n-salvage"><text class="m" x="1012" y="771">Thiamin</text><text class="m" x="1012" y="790">salvage</text></g>
<g id="n-pdxk"><rect class="td" x="986.5" y="801.5" width="51" height="49"/><text class="bl" x="989" y="822">PdxK/</text><text class="bl" x="989" y="840">TenA</text></g>
<g id="n-thid"><rect class="tf" x="985" y="861" width="54" height="28"/><text class="b" x="1008" y="881">ThiD</text></g>
<g id="n-thie"><rect class="to" x="986.5" y="899.5" width="50" height="24"/><text class="b" x="1008" y="917">ThiE</text></g>
<g id="n-thil"><rect class="tf" x="985" y="933" width="54" height="28"/><text class="b" x="1007" y="953">ThiL</text></g>
<g id="n-thiamine"><rect class="tf" x="947" y="968" width="123" height="48" rx="24"/><text class="p" x="1008" y="993">Thiamine</text><text class="v" x="1011" y="1011">(Vit B1)</text></g>

<!-- Biotin -->
<g id="n-unknown"><text class="m" x="1125" y="699">Unknown</text><text class="m" x="1125" y="718">precursor</text></g>
<g id="n-biocbioh"><rect class="to" x="1102.5" y="730.5" width="49" height="47"/><text class="b" x="1127" y="748">BioC</text><text class="b" x="1127" y="766">BioH</text></g>
<g id="n-biof"><rect class="to" x="1102.5" y="789.5" width="49" height="24"/><text class="b" x="1125" y="807">BioF</text></g>
<g id="n-bioa"><rect class="to" x="1102.5" y="824.5" width="49" height="24"/><text class="b" x="1125" y="842">BioA</text></g>
<g id="n-biod"><rect class="to" x="1102.5" y="859.5" width="49" height="24"/><text class="b" x="1126" y="877">BioD</text></g>
<g id="n-biob"><rect class="to" x="1102.5" y="894.5" width="49" height="24"/><text class="b" x="1126" y="912">BioB</text></g>
<g id="n-biotin"><rect class="tf" x="1077" y="928" width="103" height="52" rx="26"/><text class="p" x="1131" y="951">Biotin</text><text class="v" x="1131" y="970">(Vit B7)</text></g>

<!-- Heme -->
<g id="n-succoa"><text class="m" x="455" y="482">+</text><text class="m" x="471" y="501">Succinyl-CoA</text></g>
<g id="n-hema"><rect class="tf" x="435" y="511" width="54" height="28"/><text class="b" x="462" y="530">HemA</text></g>
<g id="n-hemb"><rect class="tf" x="435" y="543" width="54" height="28"/><text class="b" x="462" y="563">HemB</text></g>
<g id="n-hemc"><rect class="tf" x="435" y="575" width="54" height="28"/><text class="b" x="461" y="595">HemC</text></g>
<g id="n-hemd"><rect class="to" x="436.5" y="610.5" width="51" height="24"/><text class="b" x="461" y="628">HemD</text></g>
<g id="n-heme_e"><rect class="to" x="436.5" y="644.5" width="51" height="24"/><text class="b" x="461" y="662">HemE</text></g>
<g id="n-hemn"><rect class="tf" x="435" y="675" width="54" height="28"/><text class="b" x="461" y="695">HemN</text></g>
<g id="n-hemy"><rect class="to" x="436.5" y="710.5" width="51" height="24"/><text class="b" x="461" y="728">HemY</text></g>
<g id="n-hemh"><rect class="to" x="436.5" y="741.5" width="51" height="24"/><text class="b" x="462" y="759">HemH</text></g>
<g id="n-heme"><rect class="tf" x="418" y="775" width="87" height="33" rx="16.5"/><text class="p" x="460" y="800">Heme</text></g>

<!-- Folate / Riboflavin / Moco -->
<g id="n-gtp"><text class="m" x="663" y="726">GTP</text></g>
<g id="n-fole"><rect class="to" x="533.5" y="756.5" width="49" height="24"/><text class="b" x="559" y="774">FolE</text></g>
<g id="n-folb"><rect class="to" x="533.5" y="791.5" width="49" height="24"/><text class="b" x="559" y="809">FolB</text></g>
<g id="n-folk"><rect class="tf" x="532" y="824" width="54" height="28"/><text class="b" x="558" y="844">FolK</text></g>
<g id="n-folp"><rect class="tf" x="532" y="859" width="54" height="28"/><text class="b" x="559" y="879">FolP</text></g>
<g id="n-folc"><rect class="to" x="533.5" y="895.5" width="49" height="24"/><text class="b" x="559" y="913">FolC</text></g>
<g id="n-fola"><rect class="to" x="533.5" y="930.5" width="49" height="24"/><text class="b" x="559" y="948">FolA</text></g>
<g id="n-folate"><rect class="tf" x="508" y="965" width="101" height="48" rx="24"/><text class="p" x="557" y="988">Folate</text><text class="v" x="557" y="1006">(Vit B9)</text></g>
<g id="n-riba"><rect class="to" x="640.5" y="756.5" width="49" height="24"/><text class="b" x="664" y="774">RibA</text></g>
<g id="n-ribd"><rect class="tf" x="636" y="789" width="54" height="28"/><text class="b" x="664" y="809">RibD</text></g>
<g id="n-ribb"><rect class="to" x="639.5" y="826.5" width="49" height="23"/><text class="b" x="664" y="844">RibB</text></g>
<g id="n-ribe"><rect class="tf" x="636" y="858" width="54" height="28"/><text class="b" x="664" y="878">RibE</text></g>
<g id="n-ribc"><rect class="to" x="639.5" y="894.5" width="49" height="23"/><text class="b" x="664" y="912">RibC</text></g>
<g id="n-riboflavin"><rect class="tf" x="604" y="928" width="125" height="48" rx="24"/><text class="p" x="668" y="951">Riboflavin</text><text class="v" x="668" y="970">(Vit B2)</text></g>
<g id="n-moaabc"><rect class="to" x="754.5" y="757.5" width="50" height="64"/><text class="bl" x="759" y="776">MoaA</text><text class="bl" x="759" y="794">MoaB</text><text class="bl" x="759" y="813">MoaC</text></g>
<g id="n-moabde"><rect class="to" x="754.5" y="833.5" width="50" height="65"/><text class="bl" x="757" y="854">MoaB/</text><text class="bl" x="757" y="872">MoaD</text><text class="bl" x="757" y="891">MoaE</text></g>
<g id="n-moea"><rect class="to" x="754.5" y="907.5" width="50" height="25"/><text class="bl" x="759" y="926">MoeA</text></g>
<g id="n-moba"><rect class="to" x="754.5" y="944.5" width="50" height="24"/><text class="bl" x="759" y="962">MobA</text></g>
<g id="n-moco"><rect class="tf" x="687" y="983" width="182" height="35" rx="17.5"/><text class="p" x="782" y="1009">Molybdopterin</text></g>

<!-- Lipoate -->
<g id="n-octanoyl"><text class="m" x="439" y="851">Octanoyl-ACP</text></g>
<g id="n-lipb"><rect class="tf" x="408" y="863" width="54" height="28"/><text class="b" x="435" y="882">LipB</text></g>
<g id="n-lipa"><rect class="tf" x="408" y="897" width="54" height="28"/><text class="b" x="435" y="916">LipA</text></g>
<g id="n-lipoate"><rect class="tf" x="374" y="933" width="123" height="32" rx="16"/><text class="p" x="437" y="957">Lipoate</text></g>

<!-- Respiration -->
<g id="n-nuo"><rect class="go" x="126.5" y="753.5" width="50" height="259"/>
<text class="bl" x="133" y="768">NuoA</text><text class="bl" x="133" y="786.5">NuoB</text><text class="bl" x="133" y="805">NuoC</text><text class="bl" x="133" y="823.4">NuoD</text><text class="bl" x="133" y="841.8">NuoE</text><text class="bl" x="133" y="860.3">NuoF</text><text class="bl" x="133" y="878.7">NuoG</text><text class="bl" x="133" y="897.2">NuoH</text><text class="bl" x="133" y="915.6">NuoI</text><text class="bl" x="133" y="934">NuoJ</text><text class="bl" x="133" y="952.5">NuoK</text><text class="bl" x="133" y="971">NuoL</text><text class="bl" x="133" y="989.4">NuoM</text><text class="bl" x="133" y="1007.8">NuoN</text></g>
<g id="n-cyo"><rect class="go" x="207.5" y="753.5" width="50" height="75"/><text class="bl" x="213" y="768">CyoA</text><text class="bl" x="213" y="786.5">CyoB</text><text class="bl" x="213" y="805">CyoC</text><text class="bl" x="213" y="823.4">CyoD*</text></g>
<g id="n-sdh"><rect class="go" x="286.5" y="753.5" width="50" height="76"/><text class="bl" x="292" y="768">SdhA</text><text class="bl" x="292" y="786.5">SdhB</text><text class="bl" x="292" y="805">SdhC</text><text class="bl" x="292" y="823.4">SdhD</text></g>
<g id="n-hplus2"><text class="m" x="234" y="872">H+</text></g>
<g id="n-sucfum"><text class="ml" x="363" y="776">Suc</text><text class="ml" x="363" y="806">Fum</text></g>
<g id="n-nadh"><text class="ml" x="206" y="898">NADH</text><text class="ml" x="206" y="937">NAD+</text></g>
<g id="n-o2m"><text class="ml" x="204" y="986">O2-</text></g>
<g id="n-soda"><rect class="gf" x="257" y="966" width="54" height="27"/><text class="b" x="283" y="985">SodA</text></g>
<g id="n-o2"><text class="ml" x="346" y="973">O2</text><text class="ml" x="345" y="1002">H2O2</text></g>

<!-- Legend -->
<g id="legend">
<rect x="10" y="1027" width="1047" height="180" fill="none" stroke="#121010" stroke-width="3"/>
<text class="lgd" x="314" y="1051">Essential</text><text class="lgd" x="314" y="1069">amino acids</text>
<text class="lgd" x="431" y="1051">Non-Essential</text><text class="lgd" x="431" y="1069">amino acids</text>
<text class="lgd" x="553" y="1051">Coenzymes/</text><text class="lgd" x="553" y="1069">Cofactors/Vitamins</text>
<text class="lgd" x="677" y="1051">Other metabolic</text><text class="lgd" x="677" y="1069">processes</text>
<text class="lgd" x="805" y="1051">Conserved protein</text><text class="lgd" x="805" y="1069">with no homolog</text><text class="lgd" x="805" y="1088">amongst</text><text class="lgd" x="805" y="1106">Verrucomicrobia</text>
<text class="lgd" x="960" y="1051">Substrate presumably</text><text class="lgd" x="960" y="1070">imported from host</text><text class="lgd" x="960" y="1089">nematode cytosol</text>
<text class="lgd" x="252" y="1102" style="text-anchor:end">Present in <tspan font-style="italic">Xiphinematobacter</tspan></text>
<text class="lgd" x="246" y="1137" style="text-anchor:end">Absent in <tspan font-style="italic">Xiphinematobacter</tspan></text>
<text class="lgd" x="245" y="1174" style="text-anchor:end">Product</text>
<rect class="rf" x="289" y="1082" width="54" height="28"/>
<rect class="of" x="407" y="1082" width="54" height="28"/>
<rect class="tf" x="527" y="1082" width="54" height="28"/>
<rect class="gf" x="649" y="1082" width="54" height="28"/>
<rect class="ro" x="290.5" y="1121.5" width="51" height="24"/>
<rect class="oo" x="408.5" y="1121.5" width="51" height="24"/>
<rect class="to" x="528.5" y="1121.5" width="51" height="24"/>
<rect class="go" x="650.5" y="1121.5" width="51" height="24"/>
<rect class="rd" x="779.5" y="1121.5" width="51" height="24"/>
<rect class="kf" x="282" y="1156" width="67" height="36" rx="18"/>
<rect class="ko" x="399.25" y="1157.25" width="65.5" height="33.5" rx="16.75"/>
<rect class="tf" x="518" y="1156" width="67" height="36" rx="18"/>
<rect class="gn" x="924" y="1152" width="67" height="33" rx="16.5"/>
</g>
</svg>
